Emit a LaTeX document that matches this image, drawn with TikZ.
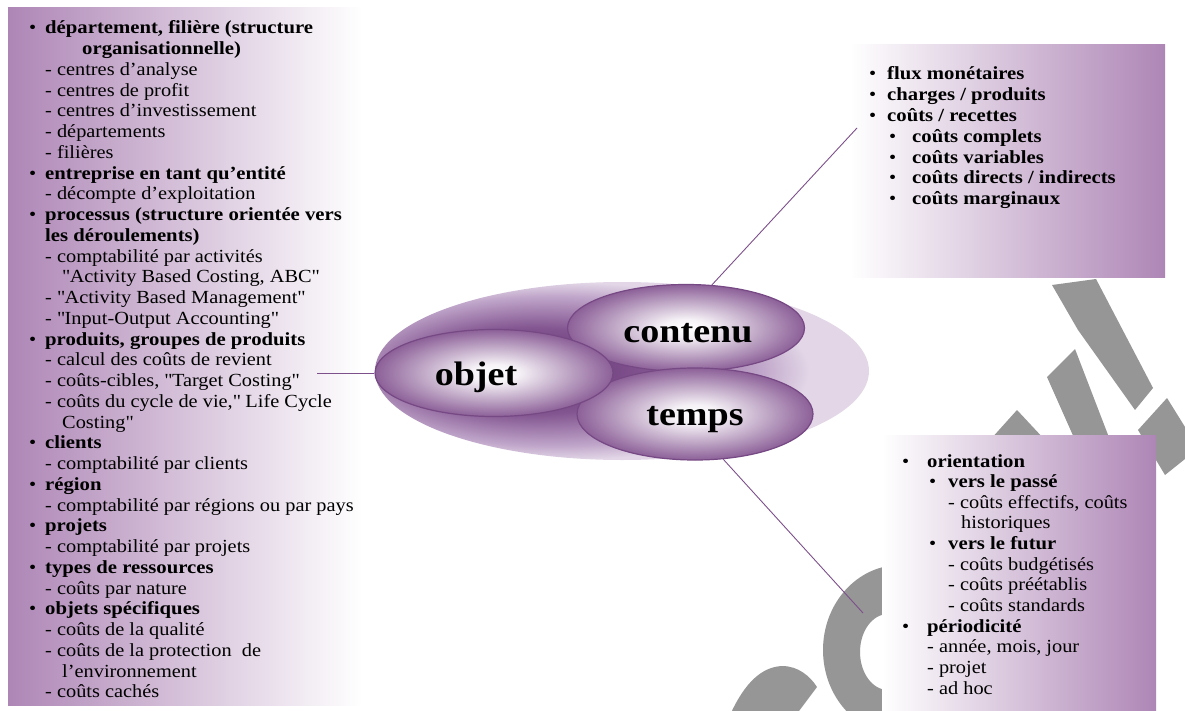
\documentclass[tikz,border=0pt]{standalone}
\usepackage{fontspec}
\setmainfont{Liberation Serif}[FakeStretch=1.1, BoldFeatures={FakeStretch=1.12}]
\usetikzlibrary{shapes.geometric}
\definecolor{boxp}{RGB}{174,134,182}
\definecolor{eggp}{RGB}{140,96,152}
\definecolor{eggline}{RGB}{118,72,132}
\definecolor{bgdark}{RGB}{90,42,104}
\definecolor{bgmid}{RGB}{130,84,144}
\definecolor{bglite}{RGB}{192,166,202}
\definecolor{wm}{RGB}{150,150,150}
\definecolor{conn}{RGB}{125,80,140}
\pgfdeclareradialshading{eggsh}{\pgfpoint{0bp}{0bp}}{color(0bp)=(white); color(5bp)=(white!92!eggp); color(25bp)=(eggp); color(50bp)=(eggp)}
\pgfdeclareradialshading{bgsh}{\pgfpoint{-12bp}{0bp}}{color(0bp)=(bgdark); color(12bp)=(bgmid); color(21bp)=(bglite); color(25bp)=(white!55!bglite); color(50bp)=(white!55!bglite)}
\newcommand\myBL[3]{\hbox{\kern#1pt\hbox to #2pt{\textbullet\hss}\textbf{#3}}}
\newcommand\myTX[2]{\hbox{\kern#1pt #2}}
\newcommand\myBT[2]{\hbox{\kern#1pt\textbf{#2}}}
\newcommand\qq{\textquotedbl{}}
\tikzset{
  txtblock/.style={anchor=base west, inner sep=0pt, font=\fontsize{18.5pt}{20.75pt}\selectfont},
  egg/.style={ellipse, inner sep=0pt, shade, shading=eggsh, draw=eggline, line width=1.2pt},
  bigl/.style={anchor=base, inner sep=0pt, font=\bfseries\fontsize{34pt}{34pt}\selectfont},
  conn/.style={draw=conn, line width=0.9pt},
  wmark/.style={fill=wm, draw=none}
}
\begin{document}
\begin{tikzpicture}[x=1pt,y=-1pt]
\useasboundingbox (0,0) rectangle (1185,711);
\fill[white] (0,0) rectangle (1185,711);
% watermark shapes
\begin{scope}
\clip (0,0) rectangle (1185,711);
\path[wmark] (1052,285) -- (1096,279) -- (1153,388) -- (1135,410) -- (1078,330) -- cycle;
\path[wmark] (1047,377) -- (1075,349) -- (1110,440) -- (1075,440) -- cycle;
\path[wmark] (990,440) -- (1017,410) -- (1045,440) -- cycle;
\path[wmark] (1138,430) -- (1167,398) -- (1190,435) -- (1190,455) -- (1165,475) -- cycle;
\path[wmark,even odd rule] (900,650) ellipse [x radius=77, y radius=85] (888,652) ellipse [x radius=28, y radius=38];
\path[wmark] (730,715) .. controls (745,682) and (762,667) .. (782,666) .. controls (798,666) and (810,676) .. (817,687) -- (796,715) -- cycle;
\end{scope}
% boxes
\shade[left color=boxp, right color=white] (8,8) rectangle (362,705);
\shade[left color=white, right color=boxp] (850,45) rectangle (1165,277);
\shade[left color=white, right color=boxp] (882,435) rectangle (1156,711);
% central ellipses
\node[ellipse, minimum width=494pt, minimum height=178pt, inner sep=0pt, shade, shading=bgsh] (bg) at (622,371) {};
\node[egg, minimum width=237pt, minimum height=87pt] (contenu) at (686,328) {};
\node[egg, minimum width=236pt, minimum height=92pt] (temps) at (695,414) {};
\node[egg, minimum width=238pt, minimum height=87pt] (objet) at (494,373) {};
\node[bigl] (tobjet) at (476,385) {objet};
\node[bigl] (tcontenu) at (688,342) {contenu};
\node[bigl] (ttemps) at (695,425) {temps};
% connectors
\coordinate (eobj) at (317,373);
\coordinate (econt) at (857,128);
\coordinate (etemps) at (863,613);
\draw[conn] (objet.west) -- (eobj);
\draw[conn] (contenu.59) -- (econt);
\draw[conn] (temps.-58) -- (etemps);
% left text
\node[txtblock] (left) at (0,34) {\vtop{\baselineskip=20.75pt\lineskiplimit=-100pt\lineskip=0pt
\myBL{29}{16}{département, filière (structure}
\myBT{82}{organisationnelle)}
\myTX{45}{- centres d’analyse}
\myTX{45}{- centres de profit}
\myTX{45}{- centres d’investissement}
\myTX{45}{- départements}
\myTX{45}{- filières}
\myBL{29}{16}{entreprise en tant qu’entité}
\myTX{45}{- décompte d’exploitation}
\myBL{29}{16}{processus (structure orientée vers}
\myBT{45}{les déroulements)}
\myTX{45}{- comptabilité par activités}
\myTX{62}{\qq Activity Based Costing, ABC\qq}
\myTX{45}{- \qq Activity Based Management\qq}
\myTX{45}{- \qq Input-Output Accounting\qq}
\myBL{29}{16}{produits, groupes de produits}
\myTX{45}{- calcul des coûts de revient}
\myTX{45}{- coûts-cibles, \qq Target Costing\qq}
\myTX{45}{- coûts du cycle de vie,\qq\ Life Cycle}
\myTX{62}{Costing\qq}
\myBL{29}{16}{clients}
\myTX{45}{- comptabilité par clients}
\myBL{29}{16}{région}
\myTX{45}{- comptabilité par régions ou par pays}
\myBL{29}{16}{projets}
\myTX{45}{- comptabilité par projets}
\myBL{29}{16}{types de ressources}
\myTX{45}{- coûts par nature}
\myBL{29}{16}{objets spécifiques}
\myTX{45}{- coûts de la qualité}
\myTX{45}{- coûts de la protection~ de}
\myTX{62}{l’environnement}
\myTX{45}{- coûts cachés}
}};
% top right text
\node[txtblock] (contenutxt) at (0,80) {\vtop{\baselineskip=20.8pt\lineskiplimit=-100pt\lineskip=0pt
\myBL{869}{18}{flux monétaires}
\myBL{869}{18}{charges / produits}
\myBL{869}{18}{coûts / recettes}
\myBL{889}{23}{coûts complets}
\myBL{889}{23}{coûts variables}
\myBL{889}{23}{coûts directs / indirects}
\myBL{889}{23}{coûts marginaux}
}};
% bottom right text
\node[txtblock] (tempstxt) at (0,467) {\vtop{\baselineskip=20.65pt\lineskiplimit=-100pt\lineskip=0pt
\myBL{902}{25}{orientation}
\myBL{929}{19}{vers le passé}
\myTX{948}{- coûts effectifs, coûts}
\myTX{961}{historiques}
\myBL{929}{19}{vers le futur}
\myTX{948}{- coûts budgétisés}
\myTX{948}{- coûts préétablis}
\myTX{948}{- coûts standards}
\myBL{902}{25}{périodicité}
\myTX{927}{- année, mois, jour}
\myTX{927}{- projet}
\myTX{927}{- ad hoc}
}};
\end{tikzpicture}
\end{document}
